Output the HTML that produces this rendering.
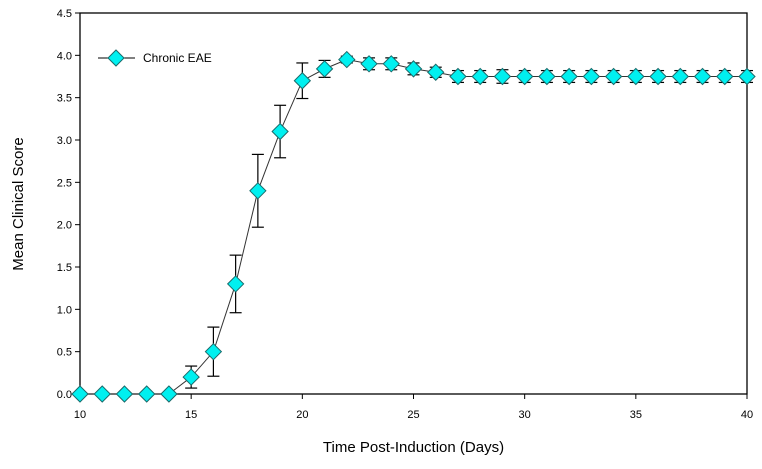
<!DOCTYPE html>
<html><head><meta charset="utf-8"><style>
html,body{margin:0;padding:0;background:#fff;}
svg{display:block;font-family:"Liberation Sans",sans-serif;}
</style></head><body>
<svg id="chart" width="762" height="469" viewBox="0 0 762 469"></svg>
<script>
const days = [10,11,12,13,14,15,16,17,18,19,20,21,22,23,24,25,26,27,28,29,30,31,32,33,34,35,36,37,38,39,40];
const scores = [0,0,0,0,0,0.2,0.5,1.3,2.4,3.1,3.7,3.84,3.95,3.9,3.9,3.84,3.8,3.75,3.75,3.75,3.75,3.75,3.75,3.75,3.75,3.75,3.75,3.75,3.75,3.75,3.75];
const errors = [0,0,0,0,0,0.13,0.29,0.34,0.43,0.31,0.21,0.1,0.04,0.07,0.07,0.07,0.06,0.07,0.07,0.08,0.07,0.07,0.07,0.07,0.07,0.07,0.07,0.07,0.07,0.07,0.07];
const xTicks = [10,15,20,25,30,35,40];
const yTicks = [0,0.5,1,1.5,2,2.5,3,3.5,4,4.5];

const NS="http://www.w3.org/2000/svg";
const svg=document.getElementById('chart');
const L=80,R=747,T=13,B=394;
const xs=d=>L+(d-10)/30*(R-L);
const ys=v=>B-v/4.5*(B-T);
function mk(tag,attrs,parent){const e=document.createElementNS(NS,tag);for(const k in attrs)e.setAttribute(k,attrs[k]);(parent||svg).appendChild(e);return e;}

const frame=mk('rect',{x:L,y:T,width:R-L,height:B-T,fill:'none',stroke:'#000','stroke-width':1.3});



const yAxisG=mk('g',{});


yTicks.forEach(v=>{
  mk('line',{x1:L-5,x2:L,y1:ys(v),y2:ys(v),stroke:'#000'},yAxisG);
  const t=mk('text',{x:L-8,y:ys(v)+4,'text-anchor':'end','font-size':11},yAxisG);
  t.textContent=v.toFixed(1);
  
  
});
const xAxisG=mk('g',{});


xTicks.forEach(v=>{
  mk('line',{x1:xs(v),x2:xs(v),y1:B,y2:B+5,stroke:'#000'},xAxisG);
  const t=mk('text',{x:xs(v),y:B+24,'text-anchor':'middle','font-size':11},xAxisG);
  t.textContent=v;
  
  
});
const xt=mk('text',{x:(L+R)/2,y:452,'text-anchor':'middle','font-size':15});
xt.textContent='Time Post-Induction (Days)';


const yt=mk('text',{x:0,y:0,'text-anchor':'middle','font-size':15,transform:'translate(23,204) rotate(-90)'});
yt.textContent='Mean Clinical Score';



const series=mk('g',{});


days.forEach((d,i)=>{
  if(errors[i]>0){
    const g=mk('g',{stroke:'#000','stroke-width':1.2},series);
    
    
    const x=xs(d),y1=ys(scores[i]+errors[i]),y2=ys(scores[i]-errors[i]);
    mk('line',{x1:x,x2:x,y1:y1,y2:y2},g);
    mk('line',{x1:x-6,x2:x+6,y1:y1,y2:y1},g);
    mk('line',{x1:x-6,x2:x+6,y1:y2,y2:y2},g);
  }
});
const pts=days.map((d,i)=>xs(d)+','+ys(scores[i])).join(' ');
const line=mk('polyline',{points:pts,fill:'none',stroke:'#333','stroke-width':1},series);


function diamond(x,y,parent){return mk('polygon',{points:`${x},${y-8} ${x+8},${y} ${x},${y+8} ${x-8},${y}`,fill:'#00f0f0',stroke:'#1a6a6a','stroke-width':1},parent);}
days.forEach((d,i)=>{
  const p=diamond(xs(d),ys(scores[i]),series);
  
  
});

const leg=mk('g',{});


mk('line',{x1:98,x2:135,y1:58,y2:58,stroke:'#000'},leg);
diamond(116,58,leg);
const lt=mk('text',{x:143,y:62,'font-size':12},leg);
lt.textContent='Chronic EAE';
</script>
</body></html>
